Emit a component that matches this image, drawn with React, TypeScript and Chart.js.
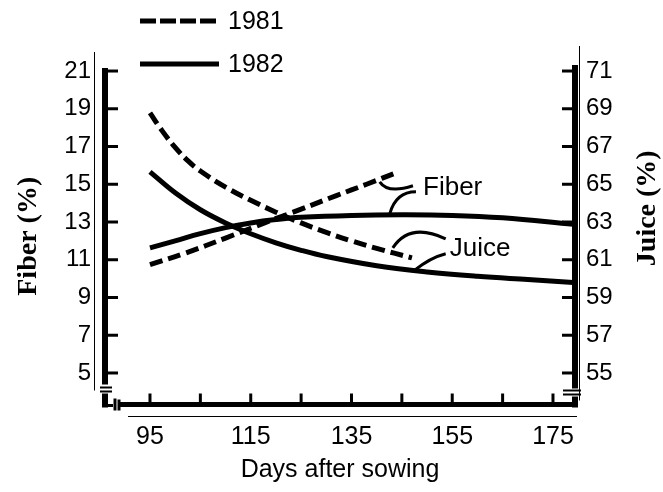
import { useEffect, useRef } from 'react';
import { Chart, registerables } from 'chart.js';

Chart.register(...registerables);

// ---- data (days after sowing / percent) ----
const days81Fiber = [95, 102, 110, 118, 125, 132, 138, 144];
const fiber81 = [10.74, 11.35, 12.15, 12.98, 13.68, 14.4, 15.0, 15.62];
const days81Juice = [95, 97.5, 100, 102.5, 105, 110, 115, 120, 125, 130, 135, 140, 147];
const juice81 = [68.78, 67.8, 66.95, 66.25, 65.7, 64.85, 64.15, 63.52, 62.95, 62.45, 62.0, 61.6, 61.1];
const days82Fiber = [95, 100, 105, 110, 115, 120, 125, 135, 145, 155, 165, 179];
const fiber82 = [11.63, 12.0, 12.38, 12.7, 12.95, 13.13, 13.25, 13.35, 13.38, 13.35, 13.22, 12.88];
const days82Juice = [95, 100, 105, 110, 115, 120, 125, 130, 140, 150, 160, 170, 179];
const juice82 = [65.66, 64.55, 63.65, 62.95, 62.38, 61.9, 61.5, 61.17, 60.68, 60.35, 60.12, 59.95, 59.8];

const xTicks = [95, 115, 135, 155, 175];
const xMinorTicks = [105, 125, 145, 165];
const fiberTicks = [5, 7, 9, 11, 13, 15, 17, 19, 21];
const juiceTicks = [55, 57, 59, 61, 63, 65, 67, 69, 71];

const legendLabels = ['1981', '1982'];

// annotation labels: [text, day, fiber%]
const annotLabels: [string, number, number][] = [
  ['Fiber', 149.2, 14.81],
  ['Juice', 154.5, 11.58],
];
// leader curves: [startDay, startFiber, ctrlDay, ctrlFiber, endDay, endFiber]
const leaders: number[][] = [
  [140.6, 15.13, 142.2, 14.49, 147.2, 14.92],
  [142.6, 13.43, 143.8, 14.6, 147.8, 14.6],
  [143.2, 11.63, 146.6, 13.01, 153.7, 12.11],
  [147.4, 10.42, 150.6, 11.11, 153.7, 11.32],
];

const SANS = '"Liberation Sans", Arial, sans-serif';
const SERIF = '"Liberation Serif", "Times New Roman", serif';

const pts = (xs: number[], ys: number[]) => xs.map((x, i) => ({ x, y: ys[i] }));

const decorPlugin = {
  id: 'decor',
  afterDraw(chart: any) {
    const ctx = chart.ctx as CanvasRenderingContext2D;
    const { left, right, top, bottom } = chart.chartArea;
    const xs = chart.scales.x;
    const ys = chart.scales.y;
    const yj = chart.scales.y2;
    const line = (x1: number, y1: number, x2: number, y2: number, w: number) => {
      ctx.lineWidth = w;
      ctx.beginPath();
      ctx.moveTo(x1, y1);
      ctx.lineTo(x2, y2);
      ctx.stroke();
    };
    ctx.save();
    ctx.strokeStyle = '#000';
    ctx.fillStyle = '#000';
    ctx.lineCap = 'butt';
    ctx.setLineDash([]);

    // left axis (thick) with break marks
    line(left, top, left, bottom - 20, 6);
    line(left - 5, bottom - 17, left + 7, bottom - 17, 2);
    line(left - 5, bottom - 13, left + 7, bottom - 13, 2);
    line(left, bottom - 11, left, bottom + 3, 6);
    line(left, bottom + 1, left + 8, bottom + 1, 3);
    line(left + 10, bottom - 6, left + 10, bottom + 6, 3);
    line(left + 14, bottom - 5, left + 14, bottom + 6, 3);
    // bottom axis (thick)
    line(left + 14, bottom, right, bottom, 5);
    // right axis (thick) with break marks
    line(right, top - 3, right, bottom - 16, 6);
    line(right - 12, bottom - 14, right + 6, bottom - 14, 2);
    line(right - 12, bottom - 10, right + 6, bottom - 10, 2);
    line(right, bottom - 8, right, bottom + 3, 6);

    // thin frame lines
    line(left - 10.5, top - 16, left - 10.5, bottom - 14, 1);
    line(right + 4.5, top - 22, right + 4.5, bottom - 4, 1);
    line(left + 23, bottom + 12, right + 2, bottom + 12, 1);

    // inward ticks
    fiberTicks.forEach((v) => {
      const y = ys.getPixelForValue(v);
      line(left, y, left + 13, y, 3);
    });
    juiceTicks.forEach((v) => {
      const y = yj.getPixelForValue(v);
      line(right - 13, y, right, y, 3);
    });
    [...xTicks, ...xMinorTicks].forEach((v) => {
      const x = xs.getPixelForValue(v);
      line(x, bottom, x, bottom - 11, 3);
    });

    // right axis title (reads bottom-to-top)
    ctx.save();
    ctx.translate(right + 73, (top + bottom) / 2 - 28);
    ctx.rotate(-Math.PI / 2);
    ctx.font = `bold 28px ${SERIF}`;
    ctx.textAlign = 'center';
    ctx.textBaseline = 'middle';
    ctx.fillText('Juice (%)', 0, 0);
    ctx.restore();

    // annotation leaders
    ctx.lineWidth = 3;
    leaders.forEach((l) => {
      ctx.beginPath();
      ctx.moveTo(xs.getPixelForValue(l[0]), ys.getPixelForValue(l[1]));
      ctx.quadraticCurveTo(
        xs.getPixelForValue(l[2]), ys.getPixelForValue(l[3]),
        xs.getPixelForValue(l[4]), ys.getPixelForValue(l[5])
      );
      ctx.stroke();
    });
    // annotation labels
    ctx.font = `26px ${SANS}`;
    ctx.textAlign = 'left';
    ctx.textBaseline = 'middle';
    annotLabels.forEach(([t, d, f]) => {
      ctx.fillText(t, xs.getPixelForValue(d), ys.getPixelForValue(f));
    });

    // legend
    const ds = chart.data.datasets;
    const legendItems = [ds[0], ds[2]];
    legendItems.forEach((d: any, i: number) => {
      const y = i === 0 ? top - 47 : top - 4;
      ctx.setLineDash(d.borderDash ? [16, 4] : []);
      ctx.lineWidth = 5;
      ctx.beginPath();
      ctx.moveTo(left + 35, y);
      ctx.lineTo(left + 114, y);
      ctx.stroke();
      ctx.setLineDash([]);
      ctx.font = `25px ${SANS}`;
      ctx.textAlign = 'left';
      ctx.textBaseline = 'middle';
      ctx.fillText(legendLabels[i], left + 123, y + 1);
    });
    ctx.restore();
  },
};

export default function App() {
  const ref = useRef<HTMLCanvasElement>(null);
  useEffect(() => {
    const common = {
      borderColor: '#000',
      backgroundColor: '#000',
      borderWidth: 5,
      pointRadius: 0,
      fill: false,
      tension: 0.4,
    };
    const chart = new Chart(ref.current!, {
      type: 'line',
      data: {
        datasets: [
          { ...common, label: '1981 Fiber', data: pts(days81Fiber, fiber81), yAxisID: 'y', borderDash: [13, 6] },
          { ...common, label: '1981 Juice', data: pts(days81Juice, juice81), yAxisID: 'y2', borderDash: [13, 6] },
          { ...common, label: '1982 Fiber', data: pts(days82Fiber, fiber82), yAxisID: 'y' },
          { ...common, label: '1982 Juice', data: pts(days82Juice, juice82), yAxisID: 'y2' },
        ],
      },
      options: {
        responsive: false,
        animation: false,
        devicePixelRatio: 1,
        layout: { padding: { top: 68, left: 0, right: 0, bottom: 0 } },
        plugins: { legend: { display: false }, tooltip: { enabled: false } },
        scales: {
          x: {
            type: 'linear',
            position: 'bottom',
            min: 86.07,
            max: 179.37,
            afterBuildTicks: (s: any) => { s.ticks = xTicks.map((v) => ({ value: v })); },
            afterFit: (s: any) => { s.height = 87.5; },
            grid: { display: false, drawTicks: false },
            border: { display: false },
            ticks: { font: { family: SANS, size: 25 }, color: '#000', padding: 18, maxRotation: 0, autoSkip: false },
            title: { display: true, text: 'Days after sowing', font: { family: SANS, size: 25 }, color: '#000', padding: { top: 0, bottom: 7 } },
          },
          y: {
            type: 'linear',
            position: 'left',
            min: 3.33,
            max: 21.16,
            afterBuildTicks: (s: any) => { s.ticks = fiberTicks.map((v) => ({ value: v })); },
            afterFit: (s: any) => { s.width = 105; },
            grid: { display: false, drawTicks: false },
            border: { display: false },
            ticks: { font: { family: SANS, size: 24 }, color: '#000', padding: 14, autoSkip: false },
            title: { display: true, text: 'Fiber (%)', font: { family: SERIF, size: 28, weight: 'bold' }, color: '#000', padding: { top: 12, bottom: 0 } },
          },
          y2: {
            type: 'linear',
            position: 'right',
            min: 53.33,
            max: 71.16,
            afterBuildTicks: (s: any) => { s.ticks = juiceTicks.map((v) => ({ value: v })); },
            afterFit: (s: any) => { s.width = 88; },
            grid: { display: false, drawTicks: false },
            border: { display: false },
            ticks: { font: { family: SANS, size: 24 }, color: '#000', padding: 11, autoSkip: false },
            title: { display: false },
          },
        },
      },
      plugins: [decorPlugin],
    });
    return () => chart.destroy();
  }, []);
  return (
    <div style={{ position: 'absolute', left: 0, top: 0, width: 663, height: 492, background: '#fff' }}>
      <canvas ref={ref} width={663} height={492} style={{ display: 'block' }} />
    </div>
  );
}
